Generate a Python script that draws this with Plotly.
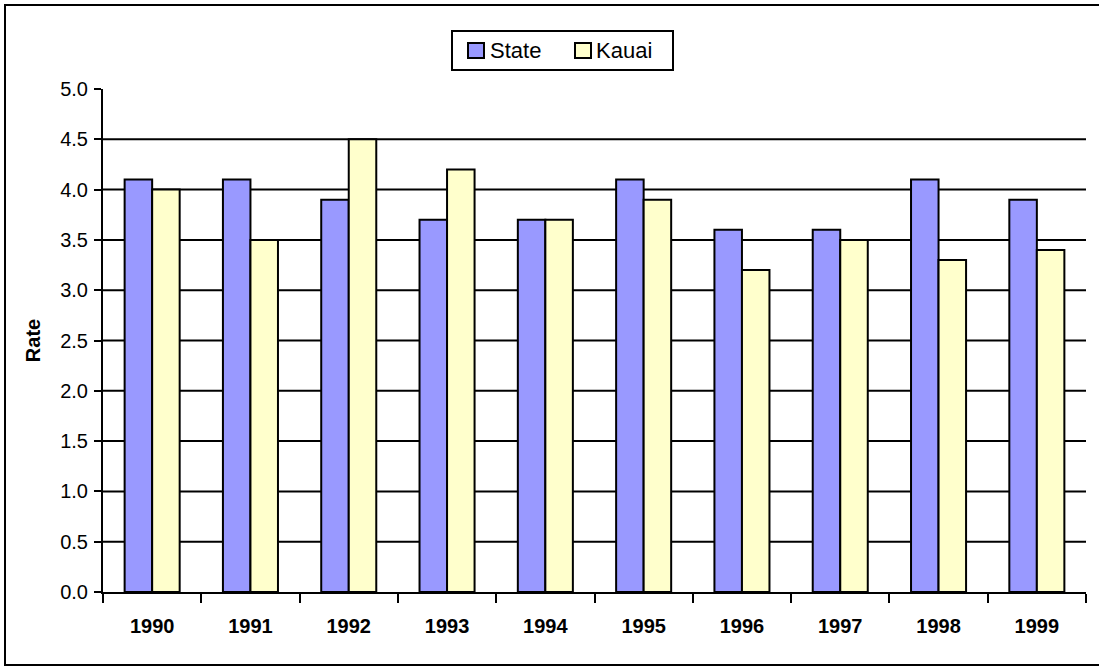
import plotly.graph_objects as go

years = ["1990", "1991", "1992", "1993", "1994", "1995", "1996", "1997", "1998", "1999"]
state = [4.1, 4.1, 3.9, 3.7, 3.7, 4.1, 3.6, 3.6, 4.1, 3.9]
kauai = [4.0, 3.5, 4.5, 4.2, 3.7, 3.9, 3.2, 3.5, 3.3, 3.4]
y_ticks = [0.0, 0.5, 1.0, 1.5, 2.0, 2.5, 3.0, 3.5, 4.0, 4.5, 5.0]
grid_vals = [0.5, 1.0, 1.5, 2.0, 2.5, 3.0, 3.5, 4.0, 4.5]
series_names = ["State", "Kauai"]
series_colors = ["#9999FF", "#FFFFCC"]

FONT = "Liberation Sans, Arial, sans-serif"
W, H = 1099, 667
L, R, T, B = 103, 13, 89, 75
pw, ph = W - L - R, H - T - B


def px(xp):
    return (xp - L) / pw


def py(yp):
    return (H - B - yp) / ph


fig = go.Figure()
for name, vals, col in zip(series_names, [state, kauai], series_colors):
    fig.add_trace(go.Bar(name=name, x=years, y=vals, showlegend=False,
                         marker=dict(color=col, line=dict(color="black", width=2))))

shapes = []
for g in grid_vals:
    shapes.append(dict(type="line", xref="paper", yref="y", x0=0, x1=1, y0=g, y1=g,
                       line=dict(color="black", width=2), layer="below"))
# outer chart border
shapes.append(dict(type="rect", xref="paper", yref="paper",
                   x0=px(5), x1=px(1115), y0=py(665), y1=py(5),
                   line=dict(color="black", width=2), fillcolor="rgba(0,0,0,0)"))

# legend box, swatches and labels
shapes.append(dict(type="rect", xref="paper", yref="paper",
                   x0=px(452), x1=px(673), y0=py(70), y1=py(31),
                   line=dict(color="black", width=2), fillcolor="white"))
annotations = []
legend_pos = [(468, 488), (575, 594)]
for (sx, tx), name, col in zip(legend_pos, series_names, series_colors):
    shapes.append(dict(type="rect", xref="paper", yref="paper",
                       x0=px(sx), x1=px(sx + 16), y0=py(58), y1=py(43),
                       line=dict(color="black", width=2), fillcolor=col))
    annotations.append(dict(xref="paper", yref="paper", x=px(tx), y=py(51),
                            xanchor="left", yanchor="middle", showarrow=False,
                            text=name, font=dict(family=FONT, size=22, color="black")))

fig.update_layout(
    width=W, height=H,
    margin=dict(l=L, r=R, t=T, b=B, autoexpand=False),
    paper_bgcolor="white", plot_bgcolor="white",
    font=dict(family=FONT, color="black", size=20),
    barmode="group", bargap=0.44, bargroupgap=0,
    showlegend=False,
    shapes=shapes, annotations=annotations,
)
fig.update_xaxes(showline=True, linecolor="black", linewidth=2,
                 ticks="outside", ticklen=9, tickwidth=2, tickcolor="black",
                 tickson="boundaries", showgrid=False,
                 tickfont=dict(family=FONT, size=20, color="black", weight="bold"),
                 ticklabelstandoff=15)
fig.update_yaxes(range=[0, 5], tickvals=y_ticks, ticktext=[f"{v:.1f}" for v in y_ticks],
                 showline=True, linecolor="black", linewidth=2,
                 ticks="outside", ticklen=7, tickwidth=2, tickcolor="black",
                 showgrid=False, zeroline=False,
                 tickfont=dict(family=FONT, size=20, color="black"),
                 ticklabelstandoff=2,
                 title=dict(text="<b>Rate</b>", font=dict(family=FONT, size=20, color="black"),
                            standoff=14))

fig.write_html("out.html", config={"displayModeBar": False},
               post_script="document.body.style.margin='0';")
